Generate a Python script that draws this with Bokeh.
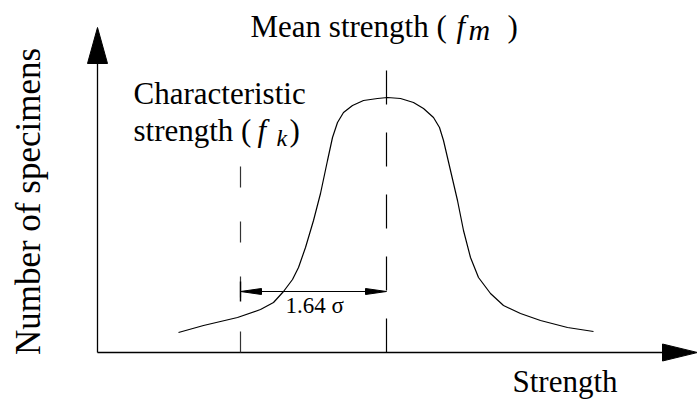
from bokeh.plotting import figure
from bokeh.models import Range1d
from bokeh.core.properties import value
from bokeh.embed import file_html
from bokeh.resources import INLINE

# ---- data (strength vs. number of specimens, schematic units) ----
curve_strength = [81, 106, 140, 163, 176, 186, 195, 201, 208, 216, 223, 230, 235, 240,
                  246, 255, 266, 280, 290, 303, 316, 326, 336, 342, 346, 353, 360,
                  366, 373, 381, 393, 406, 423, 443, 470, 496]
curve_count = [20, 27, 35, 43, 50, 61, 73, 85, 105, 132, 159, 192, 215, 230,
               240, 247, 252, 254, 255, 254, 250, 244, 235, 225, 212, 182, 152,
               122, 95, 75, 59, 47, 39, 32, 25, 21]

mean_strength = 289
char_strength = 143
mean_line_top = 284
char_line_top = 189
sigma_arrow_level = 61
axis_x_end = 600
axis_y_end = 325

x_label = "Strength"
y_label = "Number of specimens"
mean_label = "Mean strength ("
char_label_1 = "Characteristic"
char_label_2 = "strength ("
sigma_label = "1.64 σ"

FONT = value("Liberation Serif")

p = figure(width=697, height=399, x_range=Range1d(-97, 600), y_range=Range1d(-47, 352),
           output_backend="svg", toolbar_location=None, min_border=0,
           x_axis_location=None, y_axis_location=None)
p.grid.visible = False
p.outline_line_color = None
p.background_fill_color = "white"
p.border_fill_color = "white"

# axes
yhead_len, yhead_w = 36, 10
xhead_len, xhead_w = 35, 8.5
p.line([0, 0], [0, axis_y_end - yhead_len], line_color="black", line_width=1.3)
p.line([0, axis_x_end - xhead_len], [0, 0], line_color="black", line_width=1.3)
p.patch([-yhead_w, 0, yhead_w], [axis_y_end - yhead_len, axis_y_end, axis_y_end - yhead_len],
        fill_color="black", line_color="black")
p.patch([axis_x_end - xhead_len, axis_x_end, axis_x_end - xhead_len], [xhead_w, 0, -xhead_w],
        fill_color="black", line_color="black")

# curve
p.line(curve_strength, curve_count, line_color="black", line_width=1.2)

# dashed reference lines
p.line([mean_strength, mean_strength], [0, mean_line_top], line_color="black",
       line_width=1.2, line_dash="34 28")
p.line([char_strength, char_strength], [0, char_line_top], line_color="#333333",
       line_width=1.2, line_dash="21 34")
p.line([char_strength, char_strength], [sigma_arrow_level - 10, sigma_arrow_level + 10],
       line_color="black", line_width=1.4)

# 1.64 sigma arrow
ah_len, ah_w = 21, 3
p.line([char_strength + ah_len, mean_strength - ah_len], [sigma_arrow_level] * 2,
       line_color="black", line_width=1.2)
p.patches([[char_strength, char_strength + ah_len, char_strength + ah_len],
           [mean_strength, mean_strength - ah_len, mean_strength - ah_len]],
          [[sigma_arrow_level, sigma_arrow_level + ah_w, sigma_arrow_level - ah_w],
           [sigma_arrow_level, sigma_arrow_level + ah_w, sigma_arrow_level - ah_w]],
          fill_color="black", line_color="black")

# texts
def txt(x, y, s, size, style="normal", align="left", angle=0):
    p.text(x=[x], y=[y], text=[s], text_font=FONT, text_font_size=f"{size}px",
           text_font_style=style, text_align=align, text_baseline="alphabetic",
           text_color="black", angle=angle)

txt(188, 47, sigma_label, 23)
txt(153, 326, mean_label, 31)
txt(359, 326, "f", 31, "italic")
txt(371, 323, "m", 30, "italic")
txt(410, 326, ")", 31)
txt(36, 259, char_label_1, 31)
txt(36, 222, char_label_2, 31)
txt(160, 222, "f", 31, "italic")
txt(179, 215, "k", 24, "italic")
txt(192, 222, ")", 31)
txt(415, -29, x_label, 31)
txt(-69, 151, y_label, 35, align="center", angle=1.5707963)

open("out.html", "w").write(file_html(p, INLINE))
